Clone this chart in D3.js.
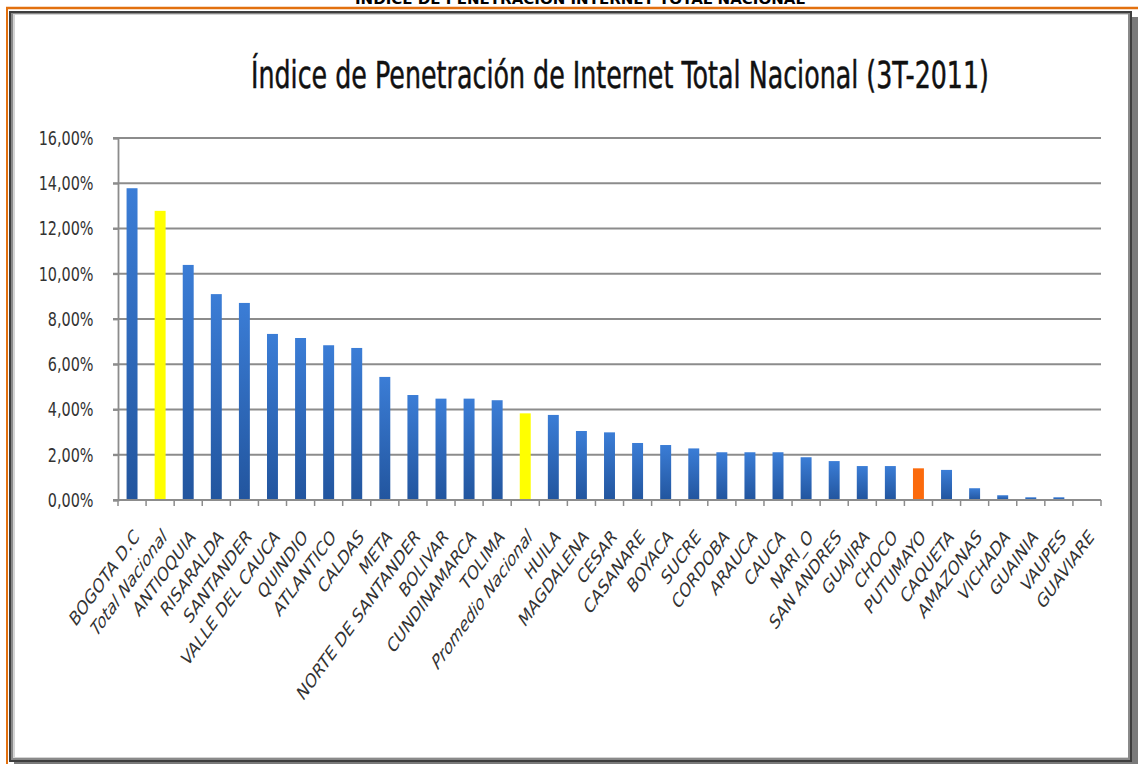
<!DOCTYPE html>
<html>
<head>
<meta charset="utf-8">
<script src="https://cdn.jsdelivr.net/npm/d3@7"></script>
<style>
  body { margin: 0; background: #fff; }
  svg { display: block; }
  text { font-family: "Century Gothic", "DejaVu Sans", sans-serif; }
</style>
</head>
<body>
<svg id="chart" width="1138" height="764"></svg>
<script>
// departments, in the order they appear on the chart
let departments = ["BOGOTA D.C", "Total Nacional", "ANTIOQUIA", "RISARALDA", "SANTANDER",
    "VALLE DEL CAUCA", "QUINDIO", "ATLANTICO", "CALDAS", "META", "NORTE DE SANTANDER",
    "BOLIVAR", "CUNDINAMARCA", "TOLIMA", "Promedio Nacional", "HUILA", "MAGDALENA", "CESAR",
    "CASANARE", "BOYACA", "SUCRE", "CORDOBA", "ARAUCA", "CAUCA", "NARI_O", "SAN ANDRES",
    "GUAJIRA", "CHOCO", "PUTUMAYO", "CAQUETA", "AMAZONAS", "VICHADA", "GUAINIA", "VAUPES",
    "GUAVIARE"];

// penetration index in percent
let penetration = [13.78, 12.78, 10.39, 9.10, 8.71, 7.34, 7.16, 6.84, 6.72, 5.44, 4.64,
    4.48, 4.48, 4.41, 3.83, 3.76, 3.05, 2.99, 2.52, 2.43, 2.28, 2.11, 2.11, 2.11, 1.89, 1.72,
    1.50, 1.50, 1.40, 1.33, 0.52, 0.21, 0.12, 0.12, 0.00];

// bars that are highlighted
let highlightYellow = ["Total Nacional", "Promedio Nacional"];
let highlightOrange = ["PUTUMAYO"];

let yTicks = [0, 2, 4, 6, 8, 10, 12, 14, 16];

let chartTitle = "Índice de Penetración de Internet Total Nacional (3T-2011)";
let pageHeader = "ÍNDICE DE PENETRACIÓN INTERNET TOTAL NACIONAL";

let data = departments.map(function(d, i) { return {name: d, value: penetration[i]}; });

let svg = d3.select("#chart");
let squeeze = 0.72; // the original picture is squeezed sideways

// gradient for the blue bars
let defs = svg.append("defs");
let grad = defs.append("linearGradient").attr("id", "blueBar")
    .attr("x1", 0).attr("y1", 0).attr("x2", 0).attr("y2", 1);
grad.append("stop").attr("offset", "0%").attr("stop-color", "#3b7dd6");
grad.append("stop").attr("offset", "100%").attr("stop-color", "#22559e");

// page header, cut off at the top
svg.append("text")
    .attr("x", 580).attr("y", 4)
    .attr("text-anchor", "middle")
    .attr("font-size", 14).attr("font-weight", "bold")
    .attr("textLength", 450).attr("lengthAdjust", "spacingAndGlyphs")
    .text(pageHeader);

// orange page rule
svg.append("line").attr("x1", 6).attr("x2", 1138).attr("y1", 8).attr("y2", 8)
    .attr("stroke", "#e2700f").attr("stroke-width", 2.5);
svg.append("line").attr("x1", 7).attr("x2", 7).attr("y1", 7).attr("y2", 764)
    .attr("stroke", "#e2700f").attr("stroke-width", 2);

// frame with shadow
svg.append("rect").attr("x", 14).attr("y", 17).attr("width", 1124).attr("height", 747).attr("fill", "#7a7a7a");
svg.append("rect").attr("x", 9).attr("y", 11).attr("width", 1123).attr("height", 751).attr("fill", "#3e3e3e");
svg.append("rect").attr("x", 11).attr("y", 13).attr("width", 1119).attr("height", 747).attr("fill", "#8a8a8a");
svg.append("rect").attr("x", 13).attr("y", 14).attr("width", 1115).attr("height", 744).attr("fill", "#d4d4d4");
svg.append("rect").attr("x", 15).attr("y", 15).attr("width", 1113).attr("height", 742).attr("fill", "#ffffff");

// title
svg.append("text")
    .attr("x", 620).attr("y", 88)
    .attr("text-anchor", "middle")
    .attr("font-size", 37).attr("fill", "#111")
    .attr("stroke", "#111").attr("stroke-width", 0.5)
    .attr("textLength", 738).attr("lengthAdjust", "spacingAndGlyphs")
    .text(chartTitle);

let margin = {left: 118, right: 1101, top: 138, bottom: 500};

let x = d3.scaleBand()
    .domain(departments)
    .range([margin.left, margin.right])
    .paddingInner(0.61)
    .paddingOuter(0.305);

let y = d3.scaleLinear()
    .domain([0, 16])
    .range([margin.bottom, margin.top]);

// gridlines
svg.append("g")
    .selectAll("line")
    .data(yTicks.filter(function(t) { return t > 0; }))
    .enter().append("line")
    .attr("x1", margin.left - 5).attr("x2", margin.right)
    .attr("y1", function(d) { return y(d); })
    .attr("y2", function(d) { return y(d); })
    .attr("stroke", "#8c8c8c").attr("stroke-width", 1.8);

// y axis
let yAxis = svg.append("g")
    .attr("transform", "translate(" + margin.left + ",0)")
    .call(d3.axisLeft(y).tickValues(yTicks).tickSize(5).tickPadding(29)
        .tickFormat(function(d) { return d3.format(".2f")(d).replace(".", ",") + "%"; }));
yAxis.select(".domain").attr("stroke", "#8c8c8c").attr("stroke-width", 1.8);
yAxis.selectAll(".tick line").attr("stroke", "#8c8c8c").attr("stroke-width", 1.8);
yAxis.selectAll(".tick text")
    .attr("font-family", "'Century Gothic', 'DejaVu Sans', sans-serif")
    .attr("font-size", 20).attr("fill", "#333")
    .attr("transform", "scale(" + squeeze + ",1)");

// bars
svg.append("g")
    .selectAll("rect")
    .data(data)
    .enter().append("rect")
    .attr("x", function(d) { return x(d.name); })
    .attr("width", x.bandwidth())
    .attr("y", function(d) { return y(d.value); })
    .attr("height", function(d) { return y(0) - y(d.value); })
    .attr("fill", function(d) {
        if (highlightYellow.includes(d.name)) return "#ffff00";
        if (highlightOrange.includes(d.name)) return "#fb6a0c";
        return "url(#blueBar)";
    });

// x axis line with tick marks at category boundaries
let boundaries = departments.map(function(d) { return x(d) - x.step() * x.paddingInner() / 2; });
boundaries.push(margin.right);
let xAxis = svg.append("g");
xAxis.append("line")
    .attr("x1", margin.left - 5).attr("x2", margin.right)
    .attr("y1", y(0)).attr("y2", y(0))
    .attr("stroke", "#8c8c8c").attr("stroke-width", 1.8);
xAxis.selectAll(".xtick")
    .data(boundaries)
    .enter().append("line")
    .attr("class", "xtick")
    .attr("x1", function(d) { return d; }).attr("x2", function(d) { return d; })
    .attr("y1", y(0)).attr("y2", y(0) + 6)
    .attr("stroke", "#8c8c8c").attr("stroke-width", 1.5);

// rotated category labels
xAxis.selectAll(".xlabel")
    .data(departments)
    .enter().append("text")
    .attr("class", "xlabel")
    .attr("transform", function(d) {
        let cx = x(d) + x.bandwidth() / 2 + 8;
        return "translate(" + cx + "," + (y(0) + 38) + ") scale(" + squeeze + ",1) rotate(-45)";
    })
    .attr("text-anchor", "end")
    .attr("font-size", 20)
    .attr("fill", "#333")
    .attr("font-style", function(d) { return d === "Total Nacional" || d === "Promedio Nacional" ? "italic" : "normal"; })
    .text(function(d) { return d; });
</script>
</body>
</html>
